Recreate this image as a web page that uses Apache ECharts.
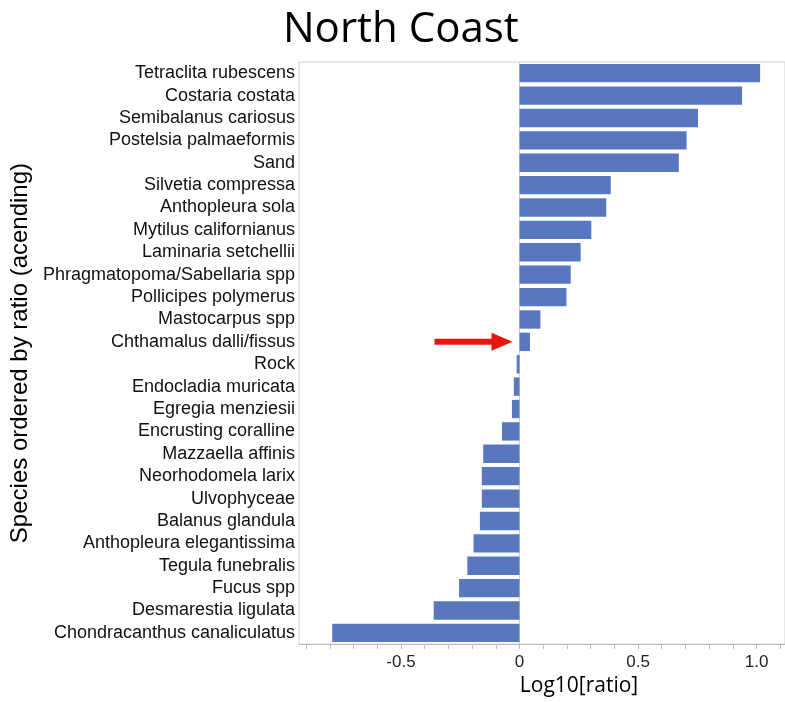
<!DOCTYPE html>
<html>
<head>
<meta charset="utf-8">
<title>North Coast</title>
<script src="https://cdn.jsdelivr.net/npm/echarts@6/dist/echarts.min.js"></script>
<style>
  html, body { margin: 0; padding: 0; background: #fff; }
  #chart { width: 785px; height: 702px; }
</style>
</head>
<body>
<div id="chart"></div>
<script>
// Species listed top to bottom, ordered by log10 ratio
const species = [
  'Tetraclita rubescens',
  'Costaria costata',
  'Semibalanus cariosus',
  'Postelsia palmaeformis',
  'Sand',
  'Silvetia compressa',
  'Anthopleura sola',
  'Mytilus californianus',
  'Laminaria setchellii',
  'Phragmatopoma/Sabellaria spp',
  'Pollicipes polymerus',
  'Mastocarpus spp',
  'Chthamalus dalli/fissus',
  'Rock',
  'Endocladia muricata',
  'Egregia menziesii',
  'Encrusting coralline',
  'Mazzaella affinis',
  'Neorhodomela larix',
  'Ulvophyceae',
  'Balanus glandula',
  'Anthopleura elegantissima',
  'Tegula funebralis',
  'Fucus spp',
  'Desmarestia ligulata',
  'Chondracanthus canaliculatus'
];

const log10Ratio = [
  1.015, 0.939, 0.753, 0.705, 0.672, 0.385, 0.366, 0.303, 0.258, 0.216,
  0.198, 0.088, 0.044, -0.012, -0.024, -0.032, -0.074, -0.153, -0.159, -0.159,
  -0.167, -0.194, -0.220, -0.255, -0.362, -0.790
];

const xLabelValues = [-0.5, 0, 0.5, 1.0];
const xLabelTexts = ['-0.5', '0', '0.5', '1.0'];
const xTickValues = [-0.9, -0.8, -0.7, -0.6, -0.5, -0.4, -0.3, -0.2, -0.1, 0,
  0.1, 0.2, 0.3, 0.4, 0.5, 0.6, 0.7, 0.8, 0.9, 1.0, 1.1];

const highlighted = 'Chthamalus dalli/fissus';

const chart = echarts.init(document.getElementById('chart'), null, { renderer: 'canvas' });

chart.setOption({
  animation: false,
  backgroundColor: '#ffffff',
  title: {
    text: 'North Coast',
    left: 278,
    top: 4,
    textStyle: {
      fontFamily: 'Open Sans',
      fontSize: 42,
      fontWeight: 'normal',
      color: '#000'
    }
  },
  grid: {
    left: 296,
    right: -2,
    top: 62,
    bottom: 51,
    show: true,
    borderColor: '#d0d0d0',
    borderWidth: 1,
    containLabel: false
  },
  xAxis: {
    type: 'value',
    min: -0.93,
    max: 1.12,
    name: 'Log10[ratio]',
    nameLocation: 'middle',
    nameGap: 28,
    nameTextStyle: {
      fontFamily: 'Open Sans',
      fontSize: 21,
      color: '#000',
      padding: [0, 0, 0, 74]
    },
    splitLine: { show: false },
    axisLine: { show: true, lineStyle: { color: '#bdbdbd', width: 1 } },
    axisTick: {
      show: true,
      length: 5,
      customValues: xTickValues,
      lineStyle: { color: '#bdbdbd' }
    },
    axisLabel: {
      customValues: xLabelValues,
      margin: 10,
      fontFamily: 'Liberation Sans',
      fontSize: 17,
      color: '#222',
      formatter: function (v) {
        const i = xLabelValues.findIndex(function (t) { return Math.abs(t - v) < 1e-9; });
        return i >= 0 ? xLabelTexts[i] : '';
      }
    }
  },
  yAxis: {
    type: 'category',
    data: species,
    inverse: true,
    name: 'Species ordered by ratio (acending)',
    nameLocation: 'middle',
    nameGap: 262,
    nameTextStyle: {
      fontFamily: 'Liberation Sans',
      fontSize: 24,
      color: '#000'
    },
    axisLine: { show: true, lineStyle: { color: '#d0d0d0' } },
    axisTick: { show: false },
    splitLine: { show: false },
    axisLabel: {
      margin: 4,
      fontFamily: 'Liberation Sans',
      fontSize: 18,
      color: '#111',
      interval: 0
    }
  },
  series: [{
    type: 'bar',
    data: log10Ratio,
    barCategoryGap: '18%',
    itemStyle: { color: '#5977bf' }
  }]
});

// Red arrow pointing at the highlighted species, placed through the axis scales
function drawArrow() {
  const tip = chart.convertToPixel({ xAxisIndex: 0, yAxisIndex: 0 }, [0, highlighted]);
  const tx = tip[0] - 7;
  const ty = tip[1];
  chart.setOption({
    graphic: [{
      type: 'group',
      silent: true,
      children: [
        {
          type: 'rect',
          shape: { x: tx - 78, y: ty - 3, width: 60, height: 6 },
          style: { fill: '#e8140f' }
        },
        {
          type: 'polygon',
          shape: { points: [[tx - 21, ty - 9], [tx, ty], [tx - 21, ty + 9]] },
          style: { fill: '#e8140f' }
        }
      ]
    }]
  });
}
drawArrow();
</script>
</body>
</html>
